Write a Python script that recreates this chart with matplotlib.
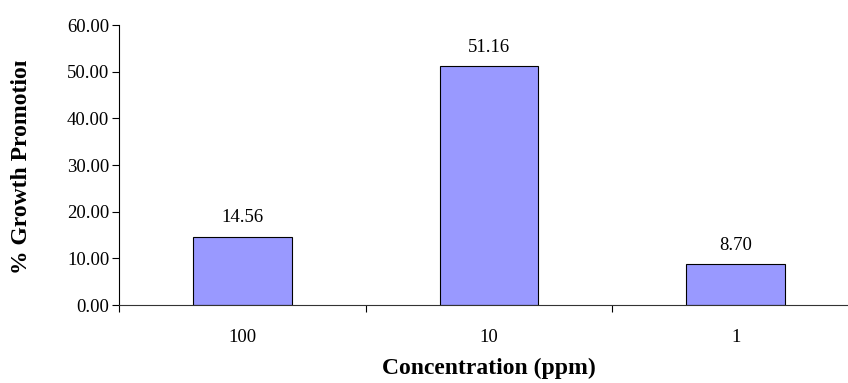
import numpy as np
import matplotlib.pyplot as plt
from matplotlib.transforms import Bbox

categories = ["100", "10", "1"]
growth = [14.56, 51.16, 8.70]
yticks = [0, 10, 20, 30, 40, 50, 60]

plt.rcParams['font.family'] = ['Liberation Serif', 'DejaVu Serif']

fig = plt.figure(figsize=(8.48, 3.83), dpi=100)
ax = fig.add_axes([119/848, 1 - 305/383, (848 - 119)/848, 280/383])

x = np.arange(len(categories))
bars = ax.bar(x, growth, width=0.4, color='#9999ff', edgecolor='black', linewidth=0.8)
for b, v in zip(bars, growth):
    ax.text(b.get_x() + b.get_width()/2, v + 2.3, f"{v:.2f}", ha='center', va='bottom', fontsize=13.5)

ax.set_xlim(-0.5, 2.455)
ax.set_ylim(0, 60)
ax.set_yticks(yticks)
ax.set_yticklabels([f"{t:.2f}" for t in yticks], fontsize=13.5)
ax.set_xticks([-0.5, 0.5, 1.5])
ax.set_xticklabels([])
ax.set_xticks(x, minor=True)
ax.set_xticklabels(categories, minor=True, fontsize=13.5)
ax.tick_params(axis='x', which='minor', length=0, pad=17)
ax.tick_params(axis='x', which='major', length=5, direction='out')
ax.tick_params(axis='y', length=5, direction='out', pad=2)

for s in ['top', 'right']:
    ax.spines[s].set_visible(False)
ax.spines['left'].set_linewidth(0.8)
ax.spines['bottom'].set_linewidth(0.8)
ax.spines['bottom'].set_color('#333333')

# x title
fig.text(489/848, 1 - 368/383, "Concentration (ppm)", ha='center', va='center',
         fontsize=17, fontweight='bold')
# y title, clipped at the top like the original
yl = fig.text(22/848, 1 - 163/383, "% Growth Promotion", ha='center', va='center',
              rotation=90, fontsize=17, fontweight='bold')
yl.set_clip_box(Bbox.from_extents(0, 0, 848, 383 - 61))
yl.set_clip_on(True)

fig.savefig("out.png", dpi=100)
